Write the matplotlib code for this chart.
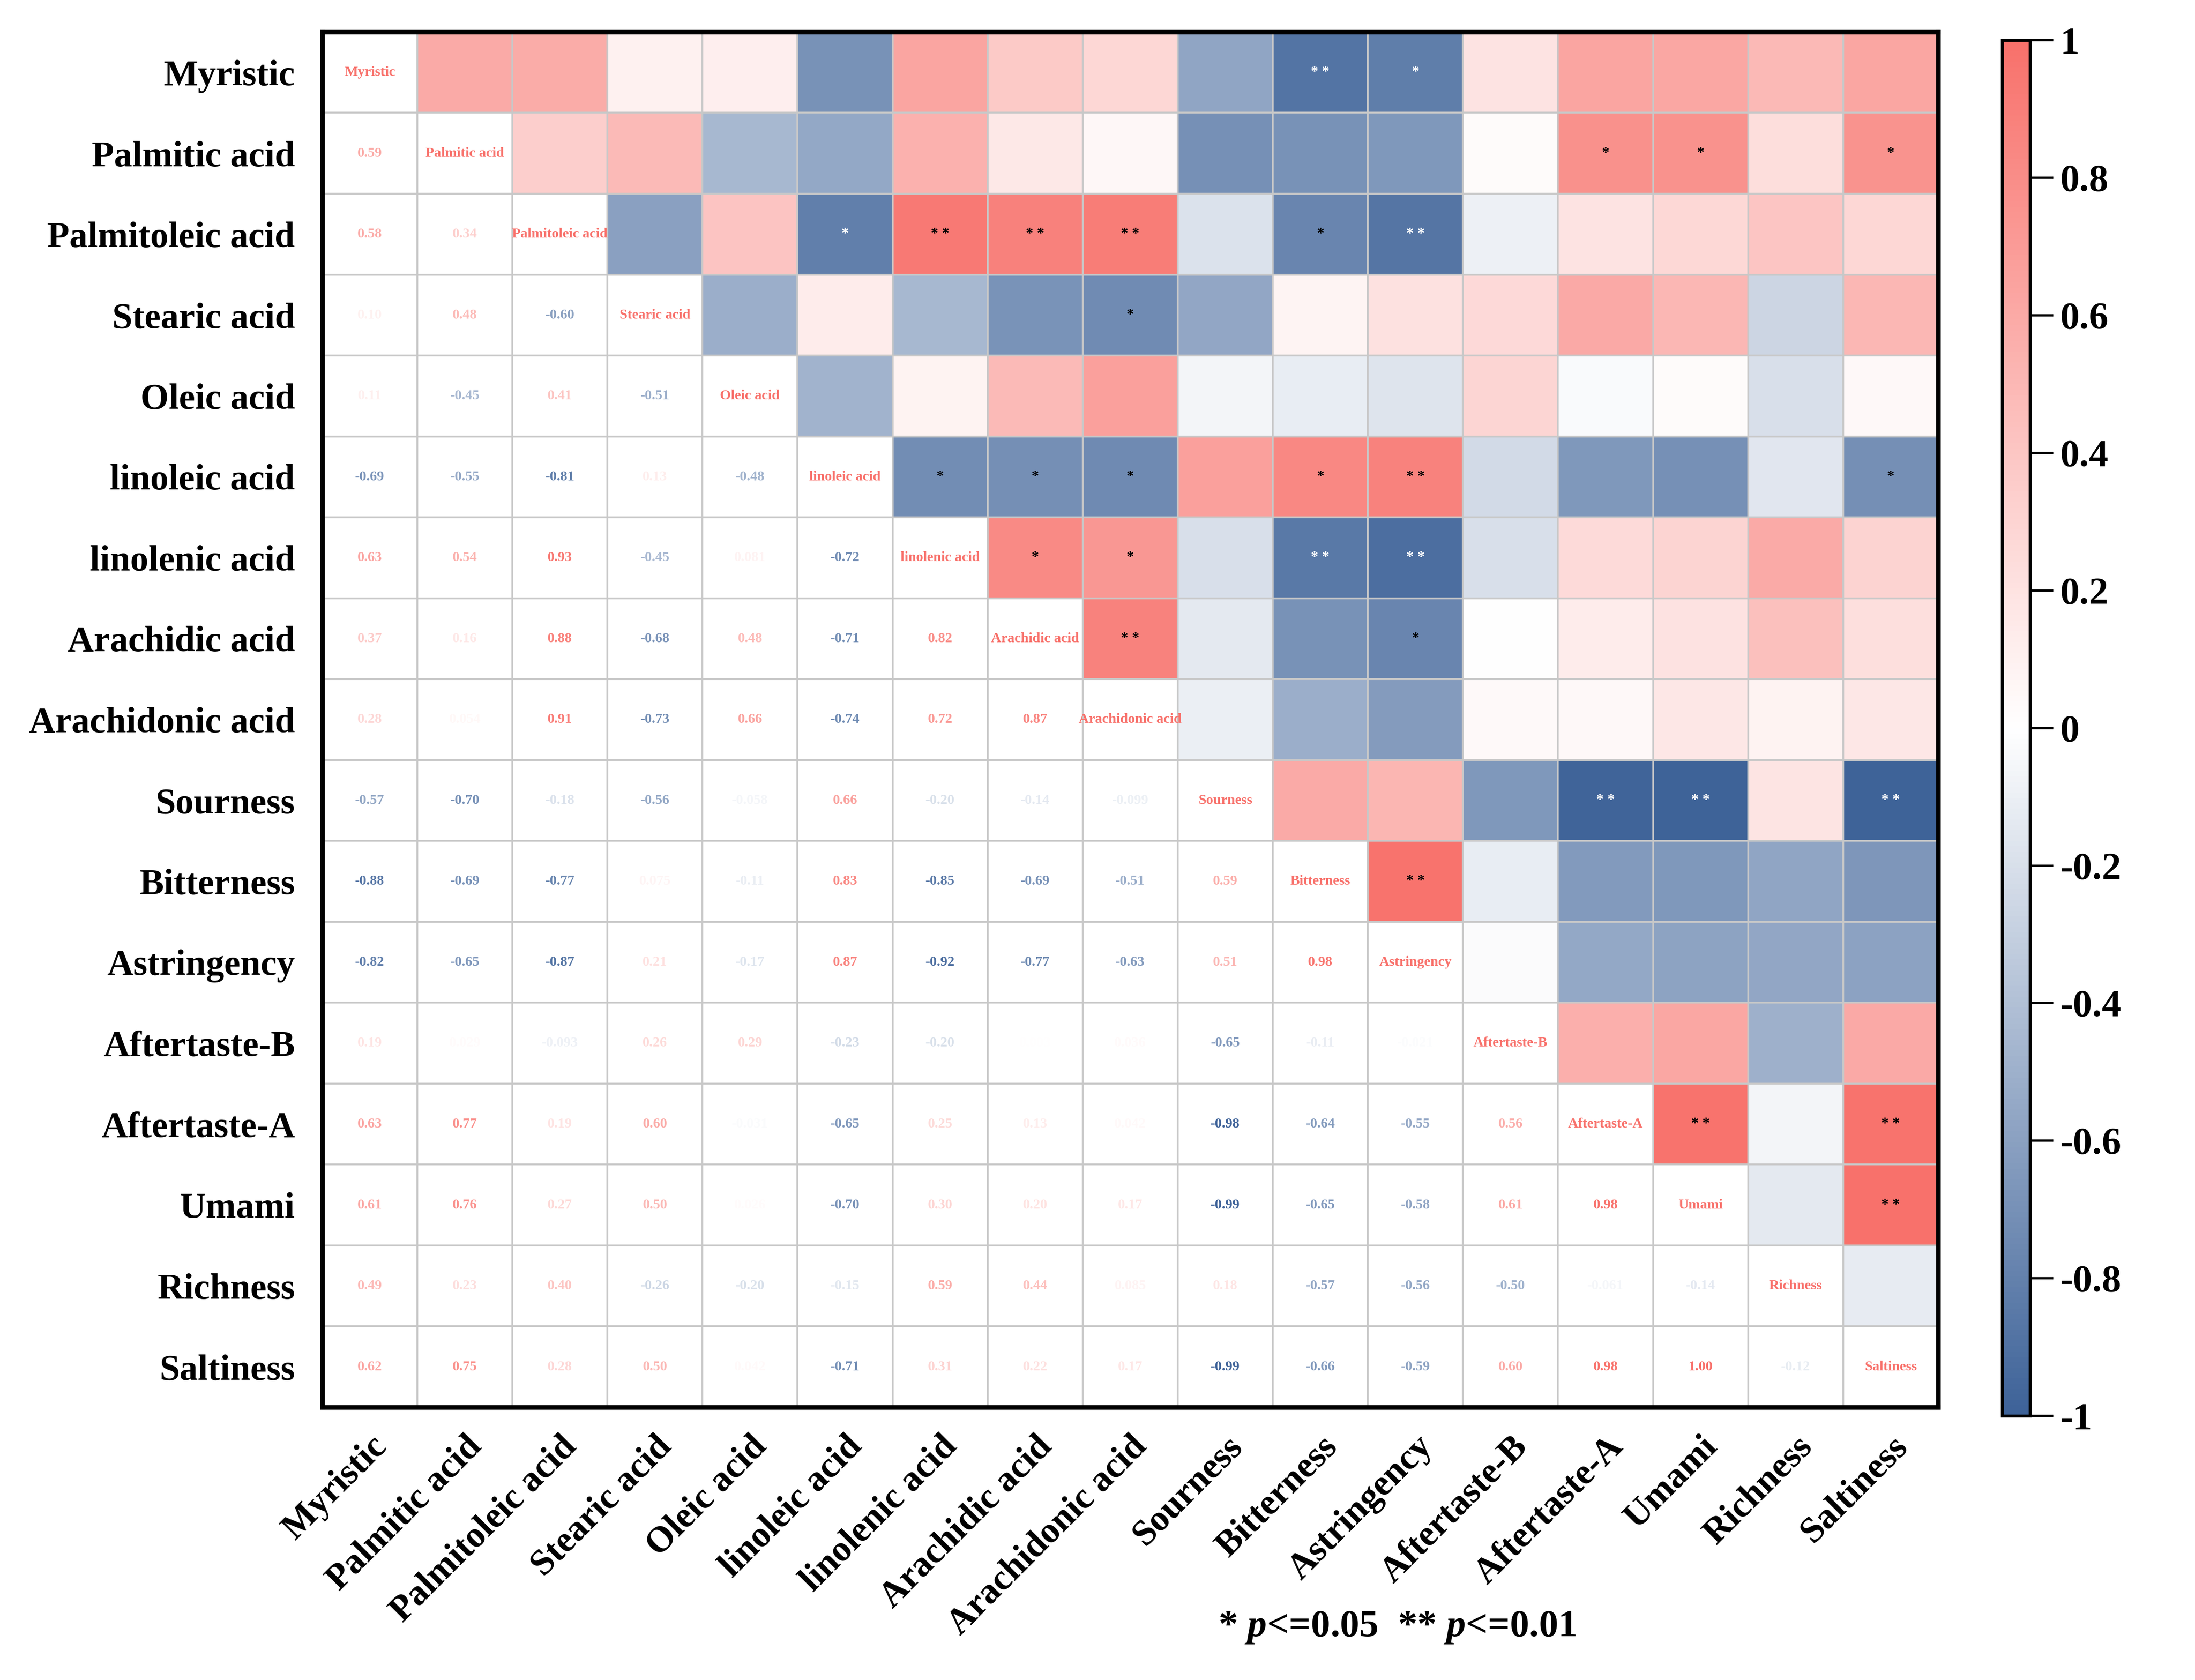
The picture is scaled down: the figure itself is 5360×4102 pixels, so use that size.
import numpy as np
import matplotlib
matplotlib.use("Agg")
import matplotlib.pyplot as plt
from matplotlib.colors import LinearSegmentedColormap, Normalize

labels = ["Myristic", "Palmitic acid", "Palmitoleic acid", "Stearic acid", "Oleic acid",
          "linoleic acid", "linolenic acid", "Arachidic acid", "Arachidonic acid",
          "Sourness", "Bitterness", "Astringency", "Aftertaste-B", "Aftertaste-A",
          "Umami", "Richness", "Saltiness"]

# lower-triangle correlation values (row i, columns 0..i-1)
r_palmitic = [0.59]
r_palmitoleic = [0.58, 0.34]
r_stearic = [0.10, 0.48, -0.60]
r_oleic = [0.11, -0.45, 0.41, -0.51]
r_linoleic = [-0.69, -0.55, -0.81, 0.13, -0.48]
r_linolenic = [0.63, 0.54, 0.93, -0.45, 0.081, -0.72]
r_arachidic = [0.37, 0.16, 0.88, -0.68, 0.48, -0.71, 0.82]
r_arachidonic = [0.28, 0.054, 0.91, -0.73, 0.66, -0.74, 0.72, 0.87]
r_sourness = [-0.57, -0.70, -0.18, -0.56, -0.058, 0.66, -0.20, -0.14, -0.099]
r_bitterness = [-0.88, -0.69, -0.77, 0.075, -0.11, 0.83, -0.85, -0.69, -0.51, 0.59]
r_astringency = [-0.82, -0.65, -0.87, 0.21, -0.17, 0.87, -0.92, -0.77, -0.63, 0.51, 0.98]
r_aftertaste_b = [0.19, 0.029, -0.093, 0.26, 0.29, -0.23, -0.20, 0.003, 0.036, -0.65, -0.11, -0.021]
r_aftertaste_a = [0.63, 0.77, 0.19, 0.60, -0.031, -0.65, 0.25, 0.13, 0.042, -0.98, -0.64, -0.55, 0.56]
r_umami = [0.61, 0.76, 0.27, 0.50, 0.026, -0.70, 0.30, 0.20, 0.17, -0.99, -0.65, -0.58, 0.61, 0.98]
r_richness = [0.49, 0.23, 0.40, -0.26, -0.20, -0.15, 0.59, 0.44, 0.085, 0.18, -0.57, -0.56, -0.50, -0.061, -0.14]
r_saltiness = [0.62, 0.75, 0.28, 0.50, 0.042, -0.71, 0.31, 0.22, 0.17, -0.99, -0.66, -0.59, 0.60, 0.98, 1.00, -0.12]

lower_rows = [[], r_palmitic, r_palmitoleic, r_stearic, r_oleic, r_linoleic, r_linolenic,
              r_arachidic, r_arachidonic, r_sourness, r_bitterness, r_astringency,
              r_aftertaste_b, r_aftertaste_a, r_umami, r_richness, r_saltiness]

# significance marks in the upper triangle (row, column, mark)
star_rows = [0, 0, 1, 1, 1, 2, 2, 2, 2, 2, 2, 3, 5, 5, 5, 5, 5, 5, 6, 6, 6, 6, 7, 7, 9, 9, 9, 10, 13, 13, 14]
star_cols = [10, 11, 13, 14, 16, 5, 6, 7, 8, 10, 11, 8, 6, 7, 8, 10, 11, 16, 7, 8, 10, 11, 8, 11, 13, 14, 16, 11, 14, 16, 16]
star_marks = ["**", "*", "*", "*", "*", "*", "**", "**", "**", "*", "**", "*", "*", "*", "*", "*", "**", "*",
              "*", "*", "**", "**", "**", "*", "**", "**", "**", "**", "**", "**", "**"]

n = len(labels)
corr = np.eye(n)
for i, row in enumerate(lower_rows):
    for j, v in enumerate(row):
        corr[i, j] = v
        corr[j, i] = v

plt.rcParams["font.family"] = ["Liberation Serif", "DejaVu Serif"]
plt.rcParams["font.weight"] = "bold"
plt.rcParams["axes.unicode_minus"] = False
plt.rcParams["mathtext.fontset"] = "custom"
plt.rcParams["mathtext.it"] = "Liberation Serif:italic:bold"
plt.rcParams["mathtext.rm"] = "Liberation Serif:bold"

cmap = LinearSegmentedColormap.from_list("rb", ["#3D6298", "#FFFFFF", "#F8716B"])
norm = Normalize(vmin=-1, vmax=1)

fig = plt.figure(figsize=(13.4, 10.255), dpi=400)
ax = fig.add_axes([0.1468, 0.1624, 0.7362, 0.8186])

upper = np.ma.masked_where(np.tril(np.ones((n, n), dtype=bool)), corr)
im = ax.imshow(upper, cmap=cmap, norm=norm, aspect="auto", interpolation="nearest")

# lower triangle numbers and diagonal names
for i in range(n):
    for j in range(n):
        if j < i:
            v = corr[i, j]
            txt = f"{v:.2f}" if abs(v) >= 0.1 else f"{v:.2g}"
            ax.text(j, i, txt, ha="center", va="center", fontsize=6.2,
                    fontweight="bold", color=cmap(norm(v)))
        elif j == i:
            ax.text(j, i, labels[i], ha="center", va="center", fontsize=6.2,
                    fontweight="bold", color=cmap(norm(1.0)))

for r, c, m in zip(star_rows, star_cols, star_marks):
    col = "white" if corr[r, c] < -0.8 else "black"
    ax.text(c, r, " ".join(m), ha="center", va="center", fontsize=6.5,
            fontweight="bold", color=col)

ax.set_xticks(np.arange(n))
ax.set_yticks(np.arange(n))
ax.set_xticklabels(labels, rotation=45, ha="right", va="top", rotation_mode="anchor",
                   fontsize=16, fontweight="bold")
ax.set_yticklabels(labels, fontsize=16, fontweight="bold")
ax.tick_params(axis="both", length=0)
ax.tick_params(axis="y", pad=12)
ax.tick_params(axis="x", pad=10)

ax.set_xticks(np.arange(-0.5, n, 1), minor=True)
ax.set_yticks(np.arange(-0.5, n, 1), minor=True)
ax.tick_params(which="minor", length=0)
ax.grid(which="minor", color="#C8C8C8", linewidth=0.8)
ax.grid(which="major", visible=False)
for s in ax.spines.values():
    s.set_linewidth(2.0)
    s.set_color("black")
    s.set_zorder(5)

cax = fig.add_axes([0.9121, 0.1572, 0.0127, 0.8189])
cb = fig.colorbar(im, cax=cax, ticks=np.round(np.arange(-1, 1.01, 0.2), 1))
cb.set_ticklabels(["-1", "-0.8", "-0.6", "-0.4", "-0.2", "0", "0.2", "0.4", "0.6", "0.8", "1"])
cb.outline.set_linewidth(1.3)
cax.tick_params(length=10.3, width=1.0, pad=3, labelsize=17)
for t in cax.get_yticklabels():
    t.set_fontweight("bold")

fig.text(0.6366, 0.026, "* $p$<=0.05  ** $p$<=0.01", ha="center", va="baseline",
         fontsize=17, fontweight="bold")

fig.savefig("out.png", dpi=400)
